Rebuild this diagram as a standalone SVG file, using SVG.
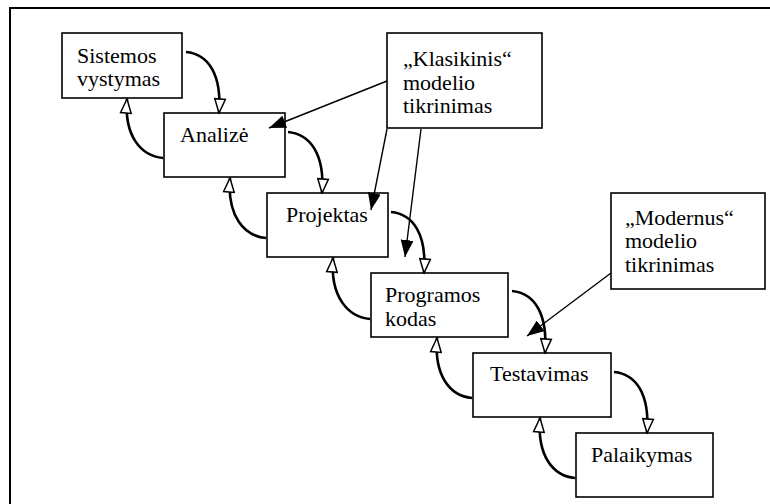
<svg xmlns="http://www.w3.org/2000/svg" width="770" height="504" viewBox="0 0 770 504">
  <style>
    .box { fill: #fff; stroke: #000; stroke-width: 1.6; }
    .lbl { font-family: "Liberation Serif", "Times New Roman", serif; font-size: 22px; fill: #000; }
    .arc { fill: none; stroke: #000; stroke-width: 2.6; marker-end: url(#openHead); }
    .ptr { fill: none; stroke: #000; stroke-width: 1.4; marker-end: url(#solidHead); }
  </style>
  <defs>
    <marker id="openHead" markerUnits="userSpaceOnUse" viewBox="0 0 17 13" markerWidth="17" markerHeight="13" refX="15.5" refY="6.5" orient="auto">
      <path d="M1.5,1.2 L15.5,6.5 L1.5,11.8 Z" fill="#fff" stroke="#000" stroke-width="1.5" stroke-linejoin="miter"/>
    </marker>
    <marker id="solidHead" markerUnits="userSpaceOnUse" viewBox="0 0 17 13" markerWidth="17" markerHeight="13" refX="17" refY="6.5" orient="auto">
      <path d="M0,0 L17,6.5 L0,13 Z" fill="#000"/>
    </marker>
  </defs>

  <rect width="770" height="504" fill="#fff"/>
  <!-- frame -->
  <rect x="10" y="8" width="800" height="600" fill="none" stroke="#000" stroke-width="2"/>

  <g id="sistemos">
    <rect class="box" x="62" y="33" width="120" height="65"/>
    <text class="lbl" x="77" y="63">Sistemos</text>
    <text class="lbl" x="77" y="86">vystymas</text>
  </g>
  <g id="analize">
    <rect class="box" x="164" y="113" width="121" height="64"/>
    <text class="lbl" x="180" y="142">Analizė</text>
  </g>
  <g id="projektas">
    <rect class="box" x="267" y="193" width="121" height="64"/>
    <text class="lbl" x="286" y="222">Projektas</text>
  </g>
  <g id="programos">
    <rect class="box" x="371" y="273" width="137" height="64"/>
    <text class="lbl" x="385" y="302">Programos</text>
    <text class="lbl" x="385" y="326">kodas</text>
  </g>
  <g id="testavimas">
    <rect class="box" x="473" y="353" width="138" height="64"/>
    <text class="lbl" x="490" y="381">Testavimas</text>
  </g>
  <g id="palaikymas">
    <rect class="box" x="576" y="433" width="137" height="64"/>
    <text class="lbl" x="591" y="462">Palaikymas</text>
  </g>
  <g id="klasikinis">
    <rect class="box" x="387" y="33" width="155" height="95"/>
    <text class="lbl" x="403" y="66">„Klasikinis“</text>
    <text class="lbl" x="403" y="90">modelio</text>
    <text class="lbl" x="403" y="113">tikrinimas</text>
  </g>
  <g id="modernus">
    <rect class="box" x="611" y="193" width="154" height="96"/>
    <text class="lbl" x="625" y="225">„Modernus“</text>
    <text class="lbl" x="625" y="248">modelio</text>
    <text class="lbl" x="625" y="272">tikrinimas</text>
  </g>

  <g id="connectors">
    <!-- forward steps -->
    <path class="arc" d="M186,52 C208,54 222,74 219,113"/>
    <path class="arc" d="M288,132 C310,134 325,154 322,193"/>
    <path class="arc" d="M391,212 C413,214 427,234 424,273"/>
    <path class="arc" d="M512,291 C534,293 548,313 545,353"/>
    <path class="arc" d="M614,372 C636,374 650,394 647,433"/>
    <!-- feedback steps -->
    <path class="arc" d="M163,158 C141,156 124,136 127,99"/>
    <path class="arc" d="M266,238 C244,236 227,216 230,178"/>
    <path class="arc" d="M370,319 C348,317 330,297 333,258"/>
    <path class="arc" d="M472,398 C450,396 434,376 437,338"/>
    <path class="arc" d="M575,478 C553,476 537,456 540,418"/>
    <!-- verification pointers -->
    <path class="ptr" d="M387,81 L269,128"/>
    <path class="ptr" d="M387,129 L371,210"/>
    <path class="ptr" d="M421,129 L405,257"/>
    <path class="ptr" d="M611,273 L527,336"/>
  </g>
</svg>
